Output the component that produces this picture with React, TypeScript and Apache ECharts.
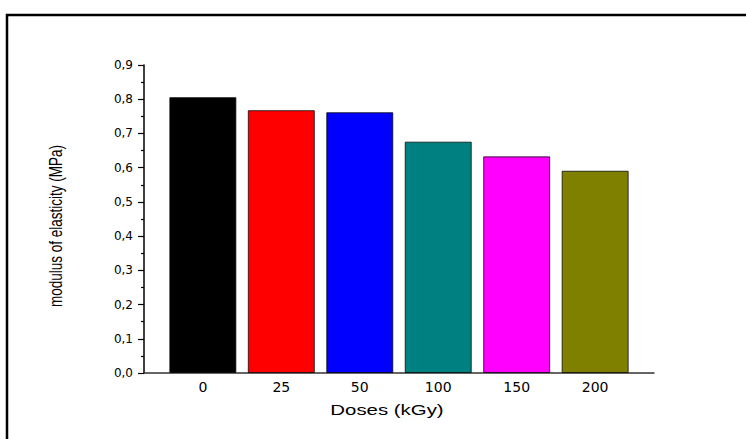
import React, { useEffect, useRef } from "react";
import * as echarts from "echarts";

const doses = ["0", "25", "50", "100", "150", "200"];
const modulus = [0.806, 0.768, 0.762, 0.676, 0.633, 0.591];
const barColors = ["#000000", "#ff0000", "#0000ff", "#008080", "#ff00ff", "#808000"];
const yTicks = [0, 0.1, 0.2, 0.3, 0.4, 0.5, 0.6, 0.7, 0.8, 0.9];

export default function App() {
  const ref = useRef<HTMLDivElement>(null);
  useEffect(() => {
    if (!ref.current) return;
    const chart = echarts.init(ref.current, null, { renderer: "svg" });
    const option: any = {
      animation: false,
      backgroundColor: "#ffffff",
      grid: { left: 144, right: 92, top: 65, bottom: 66 },
      xAxis: {
        type: "value",
        min: -0.75,
        max: 5.75,
        splitLine: { show: false },
        axisLine: { show: true, onZero: false, lineStyle: { color: "#333", width: 1.5 } },
        axisTick: { show: false },
        axisLabel: {
          customValues: doses.map((_, i) => i),
          formatter: (v: number) => doses[Math.round(v)] ?? "",
          fontFamily: "DejaVu Sans",
          fontSize: 14,
          color: "#000",
          margin: 7,
        },
      },
      yAxis: {
        type: "value",
        min: yTicks[0],
        max: yTicks[yTicks.length - 1],
        interval: 0.1,
        splitLine: { show: false },
        axisLine: { show: true, onZero: false, lineStyle: { color: "#000", width: 1.5 } },
        axisTick: { show: true, inside: false, length: 6, lineStyle: { color: "#000", width: 1.2 } },
        minorTick: { show: true, splitNumber: 2, length: 3, lineStyle: { color: "#000", width: 1.2 } },
        axisLabel: {
          formatter: (v: number) => v.toFixed(1).replace(".", ","),
          fontFamily: "DejaVu Sans",
          fontSize: 12,
          color: "#000",
          margin: 11,
        },
      },
      series: [
        {
          type: "bar",
          barWidth: 67,
          data: modulus.map((v, i) => ({
            value: [i, v],
            itemStyle: { color: barColors[i], borderColor: "rgba(0,0,0,0.75)", borderWidth: 1 },
          })),
        },
      ],
      graphic: [
        {
          type: "rect",
          shape: { x: 7, y: 15, width: 800, height: 500 },
          style: { fill: "none", stroke: "#000", lineWidth: 2.5 },
          z: 100,
        },
        {
          type: "text",
          x: 387,
          y: 410,
          scaleX: 1.36,
          style: {
            text: "Doses (kGy)",
            fontFamily: "Liberation Sans",
            fontSize: 15,
            fill: "#000",
            align: "center",
            verticalAlign: "middle",
          },
        },
        {
          type: "text",
          x: 55,
          y: 226,
          rotation: Math.PI / 2,
          scaleY: 1.35,
          style: {
            text: "modulus of elasticity (MPa)",
            fontFamily: "Liberation Sans",
            fontSize: 13.5,
            fill: "#000",
            align: "center",
            verticalAlign: "middle",
          },
        },
      ],
    };
    chart.setOption(option);
    return () => chart.dispose();
  }, []);
  return (
    <div
      ref={ref}
      style={{ position: "fixed", left: 0, top: 0, width: 746, height: 439 }}
    />
  );
}
